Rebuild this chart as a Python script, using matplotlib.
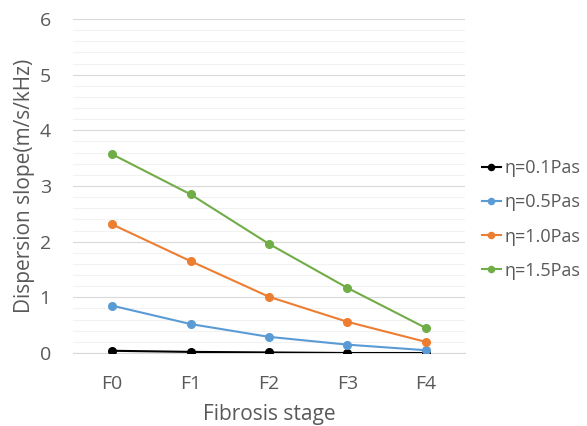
import matplotlib
matplotlib.use("Agg")
import matplotlib.pyplot as plt
from matplotlib.ticker import MultipleLocator

stages = ["F0", "F1", "F2", "F3", "F4"]
labels = ["η=0.1Pas", "η=0.5Pas", "η=1.0Pas", "η=1.5Pas"]
eta01 = [0.04, 0.02, 0.01, 0.0, 0.0]
eta05 = [0.85, 0.52, 0.29, 0.15, 0.05]
eta10 = [2.31, 1.65, 1.01, 0.56, 0.20]
eta15 = [3.57, 2.85, 1.96, 1.17, 0.45]
colors = ["#000000", "#5B9BD5", "#ED7D31", "#70AD47"]

plt.rcParams['font.family'] = ['Open Sans', 'DejaVu Sans']
fig = plt.figure(figsize=(5.87, 4.26), dpi=100)
ax = fig.add_axes([73/587, 1 - 353/426, (465-73)/587, (353-19)/426])

x = list(range(len(stages)))
for vals, lab, c in zip([eta01, eta05, eta10, eta15], labels, colors):
    ax.plot(x, vals, color=c, marker='o', markersize=5.5, linewidth=1.5, label=lab, zorder=3)

ax.set_xlim(-0.5, 4.5)
ax.set_ylim(0, 6)
ax.yaxis.set_major_locator(MultipleLocator(1))
ax.yaxis.set_minor_locator(MultipleLocator(0.2))
ax.grid(which='major', axis='y', color='#D9D9D9', linewidth=0.8)
ax.grid(which='minor', axis='y', color='#F2F2F2', linewidth=0.8)
ax.set_axisbelow(True)
ax.set_xticks(x)
ax.set_xticklabels(stages)
for s in ['top', 'right', 'left']:
    ax.spines[s].set_visible(False)
ax.spines['bottom'].set_color('#D9D9D9')
ax.tick_params(axis='both', which='both', length=0, colors='#595959', labelsize=14)
ax.tick_params(axis='x', pad=16)
ax.tick_params(axis='y', pad=16)
ax.set_xlabel("Fibrosis stage", fontsize=15, color='#595959', labelpad=8)
ax.set_ylabel("Dispersion slope(m/s/kHz)", fontsize=15, color='#595959', labelpad=3)

leg = ax.legend(loc='center left', bbox_to_anchor=(1.01, 0.40), frameon=False,
                fontsize=13, handlelength=1.1, handletextpad=0.15, labelspacing=0.9,
                markerscale=0.8, borderaxespad=0.3)
for t in leg.get_texts():
    t.set_color('#595959')

fig.savefig("out.png", dpi=100)
